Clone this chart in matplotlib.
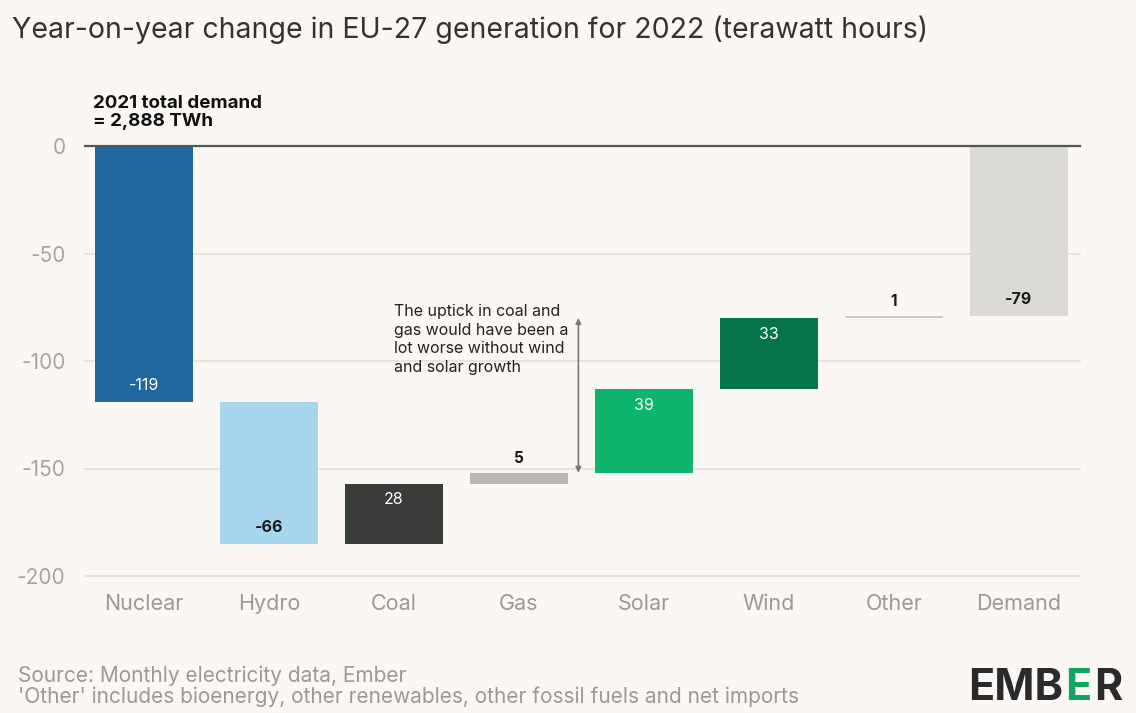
import matplotlib
matplotlib.use("Agg")
import matplotlib.pyplot as plt

plt.rcParams['font.family'] = ['Inter', 'DejaVu Sans']

categories = ['Nuclear', 'Hydro', 'Coal', 'Gas', 'Solar', 'Wind', 'Other', 'Demand']
changes = [-119, -66, 28, 5, 39, 33, 1, -79]
labels = ['-119', '-66', '28', '5', '39', '33', '1', '-79']
colors = ['#20679f', '#a7d6ee', '#3a3c39', '#b7b7b5', '#0db46c', '#08744a', '#c9c9c9', '#dcdad7']
label_colors = ['white', '#1a1a1a', 'white', '#1a1a1a', 'white', 'white', '#1a1a1a', '#1a1a1a']

bg = '#faf7f4'
fig = plt.figure(figsize=(11.36, 7.13), dpi=100, facecolor=bg)
ax = fig.add_axes([85 / 1136, 1 - 576 / 713, 995 / 1136, 430 / 713])
ax.set_facecolor(bg)

# waterfall: Demand is drawn from zero, everything else chains on
bottoms = []
running = 0
for i, c in enumerate(changes):
    if categories[i] == 'Demand':
        bottoms.append(0)
    else:
        bottoms.append(running)
        running += c

x = list(range(len(categories)))
ax.bar(x, changes, bottom=bottoms, width=0.78, color=colors, zorder=3)

for i, c in enumerate(changes):
    lo, hi = sorted([bottoms[i], bottoms[i] + c])
    if abs(c) < 10:
        ax.text(i, hi + 3, labels[i], ha='center', va='bottom', fontsize=11,
                fontweight='bold', color=label_colors[i], zorder=4)
    elif c > 0:
        ax.text(i, hi - 4, labels[i], ha='center', va='top', fontsize=11.5,
                color=label_colors[i], zorder=4)
    else:
        ax.text(i, lo + 4, labels[i], ha='center', va='bottom', fontsize=11.5,
                fontweight='bold' if label_colors[i] != 'white' else 'normal',
                color=label_colors[i], zorder=4)

ax.set_xlim(-0.472, 7.488)
ax.set_ylim(-200, 0)
ax.set_yticks([0, -50, -100, -150, -200])
ax.set_yticklabels(['0', '-50', '-100', '-150', '-200'])
for y in [-50, -100, -150, -200]:
    ax.axhline(y, color='#e4e1dd', lw=1.2, zorder=1, clip_on=False)
ax.axhline(0, color='#555555', lw=1.6, zorder=5, clip_on=False)

ax.set_xticks(x)
ax.set_xticklabels(categories)
ax.tick_params(axis='x', length=0, pad=13, labelsize=15.5, labelcolor='#9a9a9a')
ax.tick_params(axis='y', length=0, pad=14, labelsize=15, labelcolor='#a5a5a5')
for s in ax.spines.values():
    s.set_visible(False)

# annotation with double arrow between gas top and wind top
ax.annotate('', xy=(3.475, bottoms[5] + changes[5]), xytext=(3.475, bottoms[4]),
            arrowprops=dict(arrowstyle='<|-|>', color='#777777', lw=1.2,
                            mutation_scale=8, shrinkA=0, shrinkB=0), zorder=4)
ax.text(2.0, -73.5, 'The uptick in coal and\ngas would have been a\nlot worse without wind\nand solar growth',
        ha='left', va='top', fontsize=11.5, color='#222222', linespacing=1.3)

fig.text(93 / 1136, 1 - 95 / 713, '2021 total demand\n= 2,888 TWh', ha='left', va='top',
         fontsize=13.5, fontweight='bold', color='#111111', linespacing=1.1)

fig.text(12 / 1136, 1 - 30 / 713, 'Year-on-year change in EU-27 generation for 2022 (terawatt hours)',
         ha='left', va='center', fontsize=20.5, color='#333333')

fig.text(18 / 1136, 1 - 676 / 713, 'Source: Monthly electricity data, Ember',
         ha='left', va='center', fontsize=15, color='#9a9a9a')
fig.text(18 / 1136, 1 - 697 / 713, "'Other' includes bioenergy, other renewables, other fossil fuels and net imports",
         ha='left', va='center', fontsize=15, color='#9a9a9a')

# logo
fig.canvas.draw()
r = fig.canvas.get_renderer()
t1 = fig.text(968 / 1136, 1 - 688 / 713, 'EMB', ha='left', va='center', fontsize=31,
              fontweight='bold', color='#2a2a2a')
bb = t1.get_window_extent(r)
t2 = fig.text(bb.x1 / 1136 + 0.002, 1 - 688 / 713, 'E', ha='left', va='center', fontsize=31,
              fontweight='bold', color='#12a562')
bb2 = t2.get_window_extent(r)
fig.text(bb2.x1 / 1136 + 0.002, 1 - 688 / 713, 'R', ha='left', va='center', fontsize=31,
         fontweight='bold', color='#2a2a2a')

fig.savefig('out.png', dpi=100, facecolor=bg)
